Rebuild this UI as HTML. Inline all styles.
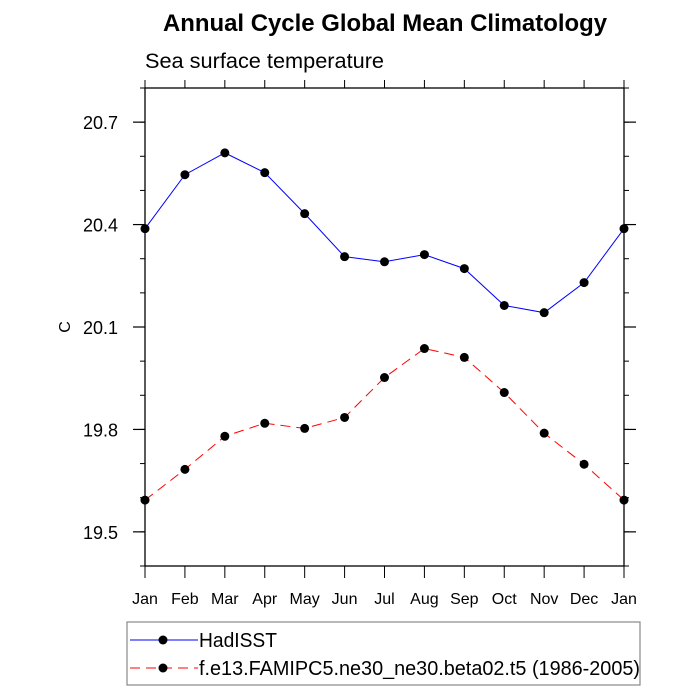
<!DOCTYPE html>
<html><head><meta charset="utf-8"><style>
html,body{margin:0;padding:0;background:#fff;}
svg{display:block;font-family:"Liberation Sans",Arial,sans-serif;}
</style></head><body>
<svg id="chart" width="700" height="700" viewBox="0 0 700 700">
<text x="163" y="31" font-size="24" font-weight="bold" textLength="444" lengthAdjust="spacingAndGlyphs">Annual Cycle Global Mean Climatology</text>
<text x="145" y="68" font-size="21" textLength="239" lengthAdjust="spacingAndGlyphs">Sea surface temperature</text>
<text x="0" y="0" font-size="16" transform="translate(70,327) rotate(-90)" text-anchor="middle">C</text>
<g id="axes"></g>
<g id="series"></g>
<g id="legend">
<rect x="127" y="622" width="513" height="63" fill="none" stroke="#888" stroke-width="1.2"/>
<g>
<line x1="130" y1="640" x2="198" y2="640" stroke="#0000ff" stroke-width="1"/>
<circle cx="163" cy="640" r="4.5" fill="#000"/>
<text x="199" y="647" font-size="20" textLength="78" lengthAdjust="spacingAndGlyphs">HadISST</text></g>
<g>
<line x1="130" y1="668" x2="198" y2="668" stroke="#ff0000" stroke-width="1" stroke-dasharray="10,6"/>
<circle cx="163" cy="668" r="4.5" fill="#000"/>
<text x="199" y="675" font-size="20" textLength="441" lengthAdjust="spacingAndGlyphs">f.e13.FAMIPC5.ne30_ne30.beta02.t5 (1986-2005)</text></g>
</g>
</svg>
<script>
const months = ["Jan","Feb","Mar","Apr","May","Jun","Jul","Aug","Sep","Oct","Nov","Dec","Jan"];
const hadisst = [20.388,20.546,20.610,20.552,20.432,20.306,20.291,20.312,20.271,20.163,20.142,20.230,20.388];
const model = [19.593,19.683,19.780,19.818,19.803,19.835,19.952,20.037,20.011,19.908,19.789,19.698,19.593];
const yTicks = [19.5,19.8,20.1,20.4,20.7];
const yTickLabels = ["19.5","19.8","20.1","20.4","20.7"];

const NS="http://www.w3.org/2000/svg";
const L=145,R=624,T=88,B=566,YMIN=19.4,YMAX=20.8;
const xs=i=>L+(R-L)*i/(months.length-1);
const ys=v=>B-(v-YMIN)/(YMAX-YMIN)*(B-T);
function mk(tag,attrs,parent){const e=document.createElementNS(NS,tag);for(const k in attrs)e.setAttribute(k,attrs[k]);parent.appendChild(e);return e;}
const ax=document.getElementById('axes');
const frame=mk('rect',{x:L,y:T,width:R-L,height:B-T,fill:'none',stroke:'#000','stroke-width':1.3},ax);


months.forEach((m,i)=>{
  const x=xs(i);
  const t1=mk('line',{x1:x,y1:B,x2:x,y2:B+12,stroke:'#000','stroke-width':1},ax);
  
  
  const t2=mk('line',{x1:x,y1:T,x2:x,y2:T-8,stroke:'#000','stroke-width':1},ax);
  
  
  const lab=mk('text',{x:x,y:B+38,'text-anchor':'middle','font-size':16},ax);
  lab.textContent=m;
  
  
});
for(let v=19.4;v<=20.801;v+=0.1){
  const y=ys(v);
  const a=mk('line',{x1:L,y1:y,x2:L-5,y2:y,stroke:'#000','stroke-width':1},ax);
  
  
  const b=mk('line',{x1:R,y1:y,x2:R+5,y2:y,stroke:'#000','stroke-width':1},ax);
  
  
}
yTicks.forEach((v,i)=>{
  const y=ys(v);
  const a=mk('line',{x1:L,y1:y,x2:L-12,y2:y,stroke:'#000','stroke-width':1.2},ax);
  
  
  const b=mk('line',{x1:R,y1:y,x2:R+12,y2:y,stroke:'#000','stroke-width':1.2},ax);
  
  
  const lab=mk('text',{x:L-27,y:y+7,'text-anchor':'end','font-size':18},ax);
  lab.textContent=yTickLabels[i];
  
  
});
const sg=document.getElementById('series');
function draw(vals,color,dash,name){
  const g=mk('g',{},sg);
  
  
  const pl=mk('polyline',{points:vals.map((v,i)=>xs(i)+','+ys(v)).join(' '),fill:'none',stroke:color,'stroke-width':1,'stroke-dasharray':dash},g);
  
  
  vals.forEach((v,i)=>{
    const c=mk('circle',{cx:xs(i),cy:ys(v),r:4.5,fill:'#000'},g);
    
    
  });
}
draw(hadisst,'#0000ff','none','hadisst-series');
draw(model,'#ff0000','10,6','model-series');
</script>
</body></html>
